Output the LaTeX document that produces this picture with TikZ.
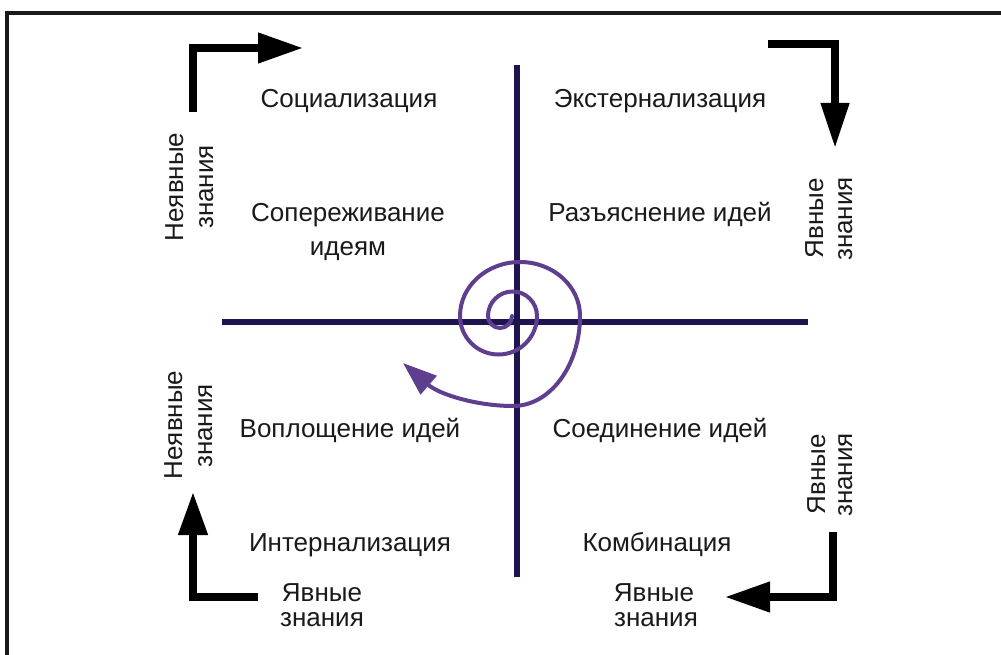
\documentclass[tikz,border=0pt]{standalone}
\usepackage{fontspec}
\setmainfont{Liberation Sans}
\usetikzlibrary{arrows.meta}
\definecolor{axiscol}{HTML}{1E1550}
\definecolor{spiralcol}{HTML}{5E3E8E}
\definecolor{txt}{HTML}{1A1A1A}
\begin{document}
\begin{tikzpicture}[x=1pt,y=-1pt,
  lbl/.style={font=\fontsize{26}{30}\selectfont, text=txt, inner sep=0pt, anchor=base},
  vlbl/.style={lbl, rotate=90},
  bigarrow/.style={line width=7.5pt, line join=miter, draw=black, -{Triangle[length=45pt,width=29pt]}},
  axisline/.style={line width=6pt, draw=axiscol},
  spiralline/.style={line width=4pt, draw=spiralcol, line cap=round, -{Triangle[length=34pt,width=24pt]}},
  frameline/.style={draw=black!90, line width=4pt}
]
\useasboundingbox (0,0) rectangle (1001,655);
\fill[white] (0,0) rectangle (1001,655);
% frame
\coordinate (fr1) at (7,655);
\coordinate (fr2) at (7,13);
\coordinate (fr3) at (1001,13);
\draw[frameline, line join=miter] (fr1) -- (fr2) -- (fr3);
% axes
\coordinate (vTop) at (517,65);
\coordinate (vBot) at (517,577);
\coordinate (hL) at (222,322);
\coordinate (hR) at (808,322);
\draw[axisline] (vTop) -- (vBot);
\draw[axisline] (hL) -- (hR);
% spiral
\coordinate (spStart) at (512,316);
\coordinate (spEnd) at (403,363);
\draw[spiralline] (spStart)
  arc[start angle=0, end angle=-180, radius=12pt]
  arc[start angle=180, end angle=0, radius=24.5pt]
  arc[start angle=0, end angle=-180, radius=38.5pt]
  arc[start angle=180, end angle=0, x radius=60pt, y radius=54pt]
  arc[start angle=0, end angle=-90, x radius=67pt, y radius=90pt]
  .. controls +(-35pt,0pt) and (440,395) .. (spEnd);
% corner arrows
\coordinate (tlA) at (193,112);
\coordinate (tlB) at (303,48);
\draw[bigarrow] (tlA) |- (tlB);
\coordinate (trA) at (768,44);
\coordinate (trB) at (835,148);
\draw[bigarrow, -{Triangle[length=45pt,width=27pt]}] (trA) -| (trB);
\coordinate (brA) at (833,532);
\coordinate (brB) at (725,597);
\draw[bigarrow] (brA) |- (brB);
\coordinate (blA) at (258,597);
\coordinate (blB) at (193,492);
\draw[bigarrow, -{Triangle[length=43pt,width=28pt]}] (blA) -| (blB);
% quadrant labels
\node[lbl] (soc) at (349,108) {Социализация};
\node[lbl] (ext) at (660,108) {Экстернализация};
\node[lbl] (sop1) at (348,222) {Сопереживание};
\node[lbl] (sop2) at (348,255) {идеям};
\node[lbl] (raz) at (660,222) {Разъяснение идей};
\node[lbl] (vop) at (350,437) {Воплощение идей};
\node[lbl] (soe) at (660,437) {Соединение идей};
\node[lbl] (int) at (350,551) {Интернализация};
\node[lbl] (kom) at (657,551) {Комбинация};
% side labels
\node[vlbl] (tl1) at (183,187) {Неявные};
\node[vlbl] (tl2) at (213,187) {знания};
\node[vlbl] (bl1) at (182,425) {Неявные};
\node[vlbl] (bl2) at (212,426) {знания};
\node[vlbl] (tr1) at (823,218) {Явные};
\node[vlbl] (tr2) at (852,219) {знания};
\node[vlbl] (br1) at (825,474) {Явные};
\node[vlbl] (br2) at (852,475) {знания};
% bottom labels
\node[lbl] (bl3) at (322,601) {Явные};
\node[lbl] (bl4) at (322,626) {знания};
\node[lbl] (br3) at (654,601) {Явные};
\node[lbl] (br4) at (656,626) {знания};
\end{tikzpicture}
\end{document}
